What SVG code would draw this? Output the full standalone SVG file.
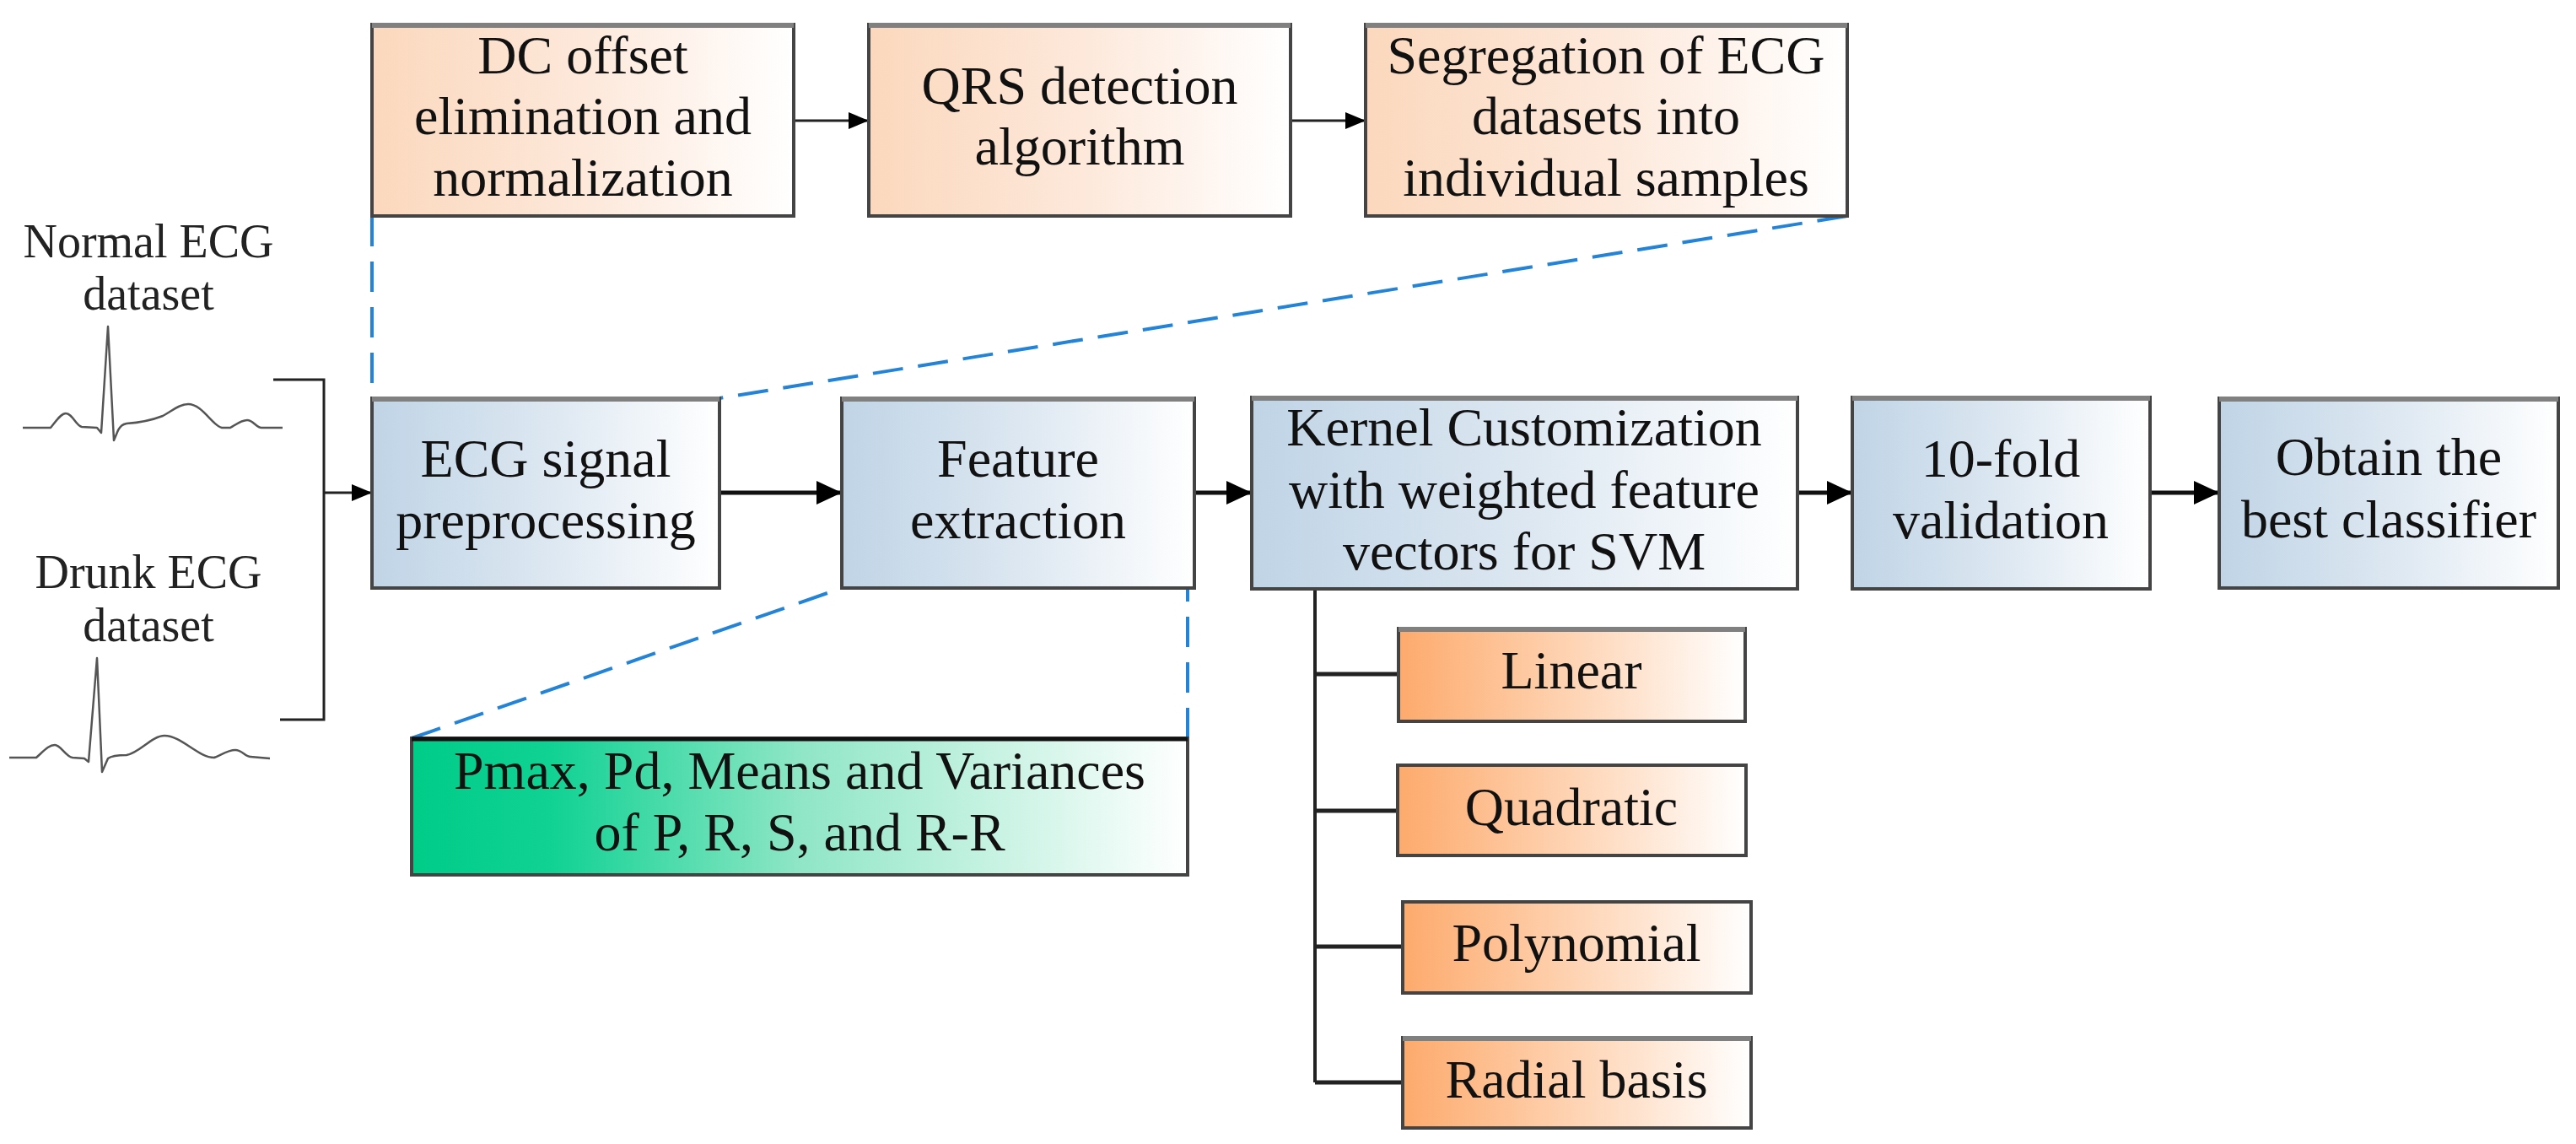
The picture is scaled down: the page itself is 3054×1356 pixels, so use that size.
<svg xmlns="http://www.w3.org/2000/svg" width="3054" height="1356" viewBox="0 0 3054 1356">
<defs>
<linearGradient id="gPeach" x1="0" y1="0" x2="1" y2="0">
<stop offset="0" stop-color="#fbd8bd"/><stop offset="0.5" stop-color="#fde8da"/><stop offset="1" stop-color="#ffffff"/>
</linearGradient>
<linearGradient id="gBlue" x1="0" y1="0" x2="1" y2="0">
<stop offset="0" stop-color="#c0d4e6"/><stop offset="0.5" stop-color="#dce7f1"/><stop offset="1" stop-color="#ffffff"/>
</linearGradient>
<linearGradient id="gOrange" x1="0" y1="0" x2="1" y2="0">
<stop offset="0" stop-color="#fdaa6c"/><stop offset="0.5" stop-color="#fed4b4"/><stop offset="1" stop-color="#ffffff"/>
</linearGradient>
<linearGradient id="gGreen" x1="0" y1="0" x2="1" y2="0">
<stop offset="0" stop-color="#00cc88"/><stop offset="0.18" stop-color="#10d293"/><stop offset="0.5" stop-color="#8fe6c6"/><stop offset="1" stop-color="#ffffff"/>
</linearGradient>
<marker id="arrowL" markerUnits="userSpaceOnUse" markerWidth="30" markerHeight="28" refX="30" refY="14" orient="auto">
<path d="M0,0 L30,14 L0,28 Z" fill="#000"/>
</marker>
<marker id="arrowS" markerUnits="userSpaceOnUse" markerWidth="24" markerHeight="20" refX="24" refY="10" orient="auto">
<path d="M0,0 L24,10 L0,20 Z" fill="#000"/>
</marker>
</defs>
<style>
text { font-family: "Liberation Serif", "Times New Roman", serif; fill: #111; text-anchor: middle; }
.t { font-size: 64px; }
.lbl { font-size: 56px; fill: #222; }
.box { stroke: #444; stroke-width: 4; }
.peach { fill: url(#gPeach); }
.blue { fill: url(#gBlue); }
.orange { fill: url(#gOrange); }
.green { fill: url(#gGreen); }
.top { stroke: #808080; stroke-width: 6; }
.wave { fill: none; stroke: #555; stroke-width: 2.5; stroke-linejoin: round; }
.thin { fill: none; stroke: #222; stroke-width: 3; }
.thick { fill: none; stroke: #111; stroke-width: 5; }
.branch { fill: none; stroke: #222; stroke-width: 5; }
.dash { fill: none; stroke: #2383d6; stroke-width: 4; stroke-dasharray: 36 18; }
</style>

<g id="connectors">
<path class="dash" d="M441,256 V472"/>
<path class="dash" d="M2190,256 L853,472"/>
<path class="dash" d="M488,875 L998,697"/>
<path class="dash" d="M1408,875 V697"/>
<path class="thin" d="M324,450 H384 V853 H332"/>
<path class="thin" d="M384,584 H441" marker-end="url(#arrowS)"/>
<path class="thin" d="M941,143 H1030" marker-end="url(#arrowS)"/>
<path class="thin" d="M1530,143 H1619" marker-end="url(#arrowS)"/>
<path class="thick" d="M853,584 H998" marker-end="url(#arrowL)"/>
<path class="thick" d="M1416,584 H1484" marker-end="url(#arrowL)"/>
<path class="thick" d="M2131,584 H2196" marker-end="url(#arrowL)"/>
<path class="thick" d="M2549,584 H2631" marker-end="url(#arrowL)"/>
<path class="thin" d="M1559,698 V1283" style="stroke-width:4"/>
<path class="branch" d="M1559,799 H1658 M1559,961 H1657 M1559,1122 H1663 M1559,1283 H1663"/>
</g>

<g id="normal-ecg">
<text class="lbl" x="176" y="305">Normal ECG</text>
<text class="lbl" x="176" y="367">dataset</text>
<path class="wave" d="M27,507 L60,507 C66,500 72,490 78,490 C86,490 90,505 97,506 L115,507 L120,513 L128,387 L135,522 L140,510 C143,505 145,503 150,502 C165,501 180,498 193,493 C203,488 212,479 223,479 C240,479 252,505 263,507 L273,507 C280,503 286,498 293,498 C300,498 304,507 310,507 L335,507"/>
</g>

<g id="drunk-ecg">
<text class="lbl" x="176" y="697">Drunk ECG</text>
<text class="lbl" x="176" y="760">dataset</text>
<path class="wave" d="M11,898 L43,898 C52,890 58,883 65,883 C72,883 78,897 86,898 L100,899 L105,903 L115,780 L121,915 L128,899 C132,896 140,895 150,895 C165,893 180,872 195,872 C215,872 235,898 254,898 C262,895 270,889 279,889 C287,889 291,897 297,897 L320,899"/>
</g>

<g id="dc-offset">
<rect class="box peach" x="441" y="29" width="500" height="227"/>
<line class="top" x1="441" y1="30" x2="941" y2="30"/>
<text class="t" x="691" y="87">DC offset</text>
<text class="t" x="691" y="159">elimination and</text>
<text class="t" x="691" y="232">normalization</text>
</g>

<g id="qrs-detection">
<rect class="box peach" x="1030" y="29" width="500" height="227"/>
<line class="top" x1="1030" y1="30" x2="1530" y2="30"/>
<text class="t" x="1280" y="123">QRS detection</text>
<text class="t" x="1280" y="195">algorithm</text>
</g>

<g id="segregation">
<rect class="box peach" x="1619" y="29" width="571" height="227"/>
<line class="top" x1="1619" y1="30" x2="2190" y2="30"/>
<text class="t" x="1904" y="87">Segregation of ECG</text>
<text class="t" x="1904" y="159">datasets into</text>
<text class="t" x="1904" y="232">individual samples</text>
</g>

<g id="ecg-preprocessing">
<rect class="box blue" x="441" y="472" width="412" height="225"/>
<line class="top" x1="441" y1="473" x2="853" y2="473"/>
<text class="t" x="647" y="565">ECG signal</text>
<text class="t" x="647" y="638">preprocessing</text>
</g>

<g id="feature-extraction">
<rect class="box blue" x="998" y="472" width="418" height="225"/>
<line class="top" x1="998" y1="473" x2="1416" y2="473"/>
<text class="t" x="1207" y="565">Feature</text>
<text class="t" x="1207" y="638">extraction</text>
</g>

<g id="kernel-customization">
<rect class="box blue" x="1484" y="471" width="647" height="227"/>
<line class="top" x1="1484" y1="472" x2="2131" y2="472"/>
<text class="t" x="1807" y="528">Kernel Customization</text>
<text class="t" x="1807" y="602">with weighted feature</text>
<text class="t" x="1807" y="675">vectors for SVM</text>
</g>

<g id="tenfold-validation">
<rect class="box blue" x="2196" y="471" width="353" height="227"/>
<line class="top" x1="2196" y1="472" x2="2549" y2="472"/>
<text class="t" x="2372" y="565">10-fold</text>
<text class="t" x="2372" y="638">validation</text>
</g>

<g id="best-classifier">
<rect class="box blue" x="2631" y="472" width="402" height="225"/>
<line class="top" x1="2631" y1="473" x2="3033" y2="473"/>
<text class="t" x="2832" y="563">Obtain the</text>
<text class="t" x="2832" y="637">best classifier</text>
</g>

<g id="features-list">
<rect class="box green" x="488" y="875" width="920" height="162"/>
<line x1="488" y1="876" x2="1408" y2="876" stroke="#111" stroke-width="5"/>
<text class="t" x="948" y="935">Pmax, Pd, Means and Variances</text>
<text class="t" x="948" y="1008">of P, R, S, and R-R</text>
</g>

<g id="linear">
<rect class="box orange" x="1658" y="745" width="411" height="110"/>
<line class="top" x1="1658" y1="746" x2="2069" y2="746"/>
<text class="t" x="1863" y="816">Linear</text>
</g>

<g id="quadratic">
<rect class="box orange" x="1657" y="907" width="413" height="107"/>
<text class="t" x="1863" y="978">Quadratic</text>
</g>

<g id="polynomial">
<rect class="box orange" x="1663" y="1069" width="413" height="108"/>
<text class="t" x="1869" y="1139">Polynomial</text>
</g>

<g id="radial-basis">
<rect class="box orange" x="1663" y="1230" width="413" height="107"/>
<line class="top" x1="1663" y1="1231" x2="2076" y2="1231"/>
<text class="t" x="1869" y="1301">Radial basis</text>
</g>
</svg>
